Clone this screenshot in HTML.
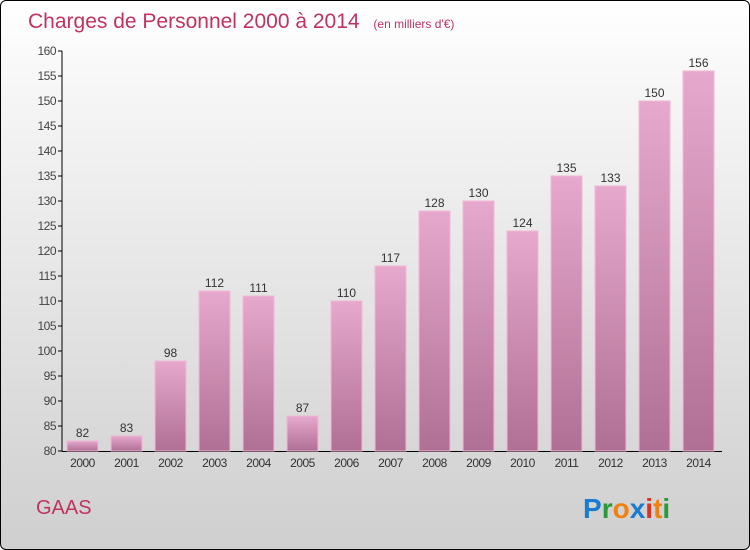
<!DOCTYPE html>
<html><head><meta charset="utf-8"><style>
body{margin:0}
#c{position:relative;width:748px;height:548px;border:1px solid #000;border-radius:6px;overflow:hidden;background:linear-gradient(#fff,#f4f4f4 20%,#cfcfcf);font-family:"Liberation Sans",sans-serif}
</style></head><body>
<div id="c">
<svg width="748" height="548">
<defs><linearGradient id="g" x1="0" y1="0" x2="0" y2="1"><stop offset="0" stop-color="#e6a8cc"/><stop offset="1" stop-color="#b07095"/></linearGradient></defs>
<text x="27" y="27" font-size="21" fill="#c0335f">Charges de Personnel 2000 à 2014 <tspan font-size="12" dx="8">(en milliers d'€)</tspan></text>
<g id="axes"></g><g id="bars"></g>
<text x="35" y="513" font-size="20" fill="#c0335f">GAAS</text>
<text x="582" y="517" font-size="28" font-weight="bold"><tspan fill="#1a7cd0">P</tspan><tspan fill="#2a9a3a">r</tspan><tspan fill="#f08010">o</tspan><tspan fill="#1a7cd0">x</tspan><tspan fill="#e03020">i</tspan><tspan fill="#f08010">t</tspan><tspan fill="#2a9a3a">i</tspan></text>
</svg>
</div>
<script>
const years=["2000","2001","2002","2003","2004","2005","2006","2007","2008","2009","2010","2011","2012","2013","2014"];
const values=[82,83,98,112,111,87,110,117,128,130,124,135,133,150,156];
const yTicks=[80,85,90,95,100,105,110,115,120,125,130,135,140,145,150,155,160];
const NS="http://www.w3.org/2000/svg";
const y=v=>450-(v-80)*5, x=i=>81+i*44;
function mk(t,a,p){const e=document.createElementNS(NS,t);for(const k in a)e.setAttribute(k,a[k]);p.appendChild(e);return e;}
const ax=document.getElementById('axes'),bg=document.getElementById('bars');
let l=mk('line',{x1:61,y1:50,x2:61,y2:450,stroke:'#000'},ax);


l=mk('line',{x1:61,y1:450.5,x2:721,y2:450.5,stroke:'#000'},ax);


yTicks.forEach(v=>{mk('line',{x1:57,y1:y(v),x2:61,y2:y(v),stroke:'#000'},ax);
const t=mk('text',{x:55,y:y(v)+4,'font-size':12,fill:'#444','text-anchor':'end','letter-spacing':'-0.5'},ax);t.textContent=v;

});
values.forEach((v,i)=>{const r=mk('rect',{x:x(i)-15,y:y(v),width:31,height:450-y(v),fill:'url(#g)',stroke:'#f0b8d8'},bg);


const t=mk('text',{x:x(i)+0.5,y:y(v)-4,'font-size':12,fill:'#333','text-anchor':'middle'},bg);t.textContent=v;


const yl=mk('text',{x:x(i)+0.5,y:466,'font-size':12,fill:'#333','text-anchor':'middle','letter-spacing':'-0.5'},bg);yl.textContent=years[i];

});
</script>
</body></html>
